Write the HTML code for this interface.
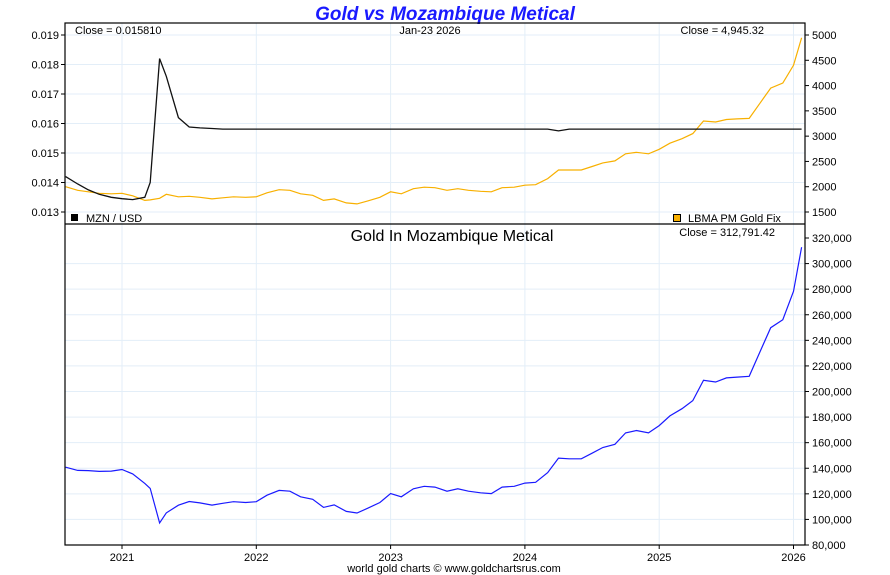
<!DOCTYPE html>
<html><head><meta charset="utf-8"><style>
body{margin:0;background:#fff;}
svg{display:block;font-family:"Liberation Sans",sans-serif;}
</style></head><body>
<svg id="chart" width="890" height="575" viewBox="0 0 890 575">
<rect width="890" height="575" fill="#fff"/>
<text x="445" y="20" text-anchor="middle" font-size="19" font-weight="bold" font-style="italic" fill="#1a1aff">Gold vs Mozambique Metical</text>
<g id="grid"></g>
<g id="series"></g>
<g id="axes"></g>
<rect x="65" y="23" width="740" height="522" fill="none" stroke="#000" stroke-width="1.2"/>
<line x1="65" y1="224" x2="805" y2="224" stroke="#000" stroke-width="1.2"/>
<text x="75" y="34" font-size="11">Close = 0.015810</text>
<text x="430" y="34" text-anchor="middle" font-size="11">Jan-23  2026</text>
<text x="764" y="34" text-anchor="end" font-size="11">Close = 4,945.32</text>
<rect x="71" y="214" width="7" height="7" fill="#000"/>
<text x="86" y="222" font-size="11">MZN / USD</text>
<rect x="673.5" y="214.5" width="7" height="7" fill="#f8b000" stroke="#000" stroke-width="1"/>
<text x="688" y="222" font-size="11">LBMA PM Gold Fix</text>
<text x="452" y="241" text-anchor="middle" font-size="16">Gold In Mozambique Metical</text>
<text x="775" y="236" text-anchor="end" font-size="11">Close = 312,791.42</text>
<text x="454" y="572" text-anchor="middle" font-size="11">world gold charts © www.goldchartsrus.com</text>
</svg>
<script>
const dates = [2020.58,2020.67,2020.75,2020.83,2020.92,2021.0,2021.08,2021.17,2021.21,2021.28,2021.33,2021.42,2021.5,2021.58,2021.67,2021.75,2021.83,2021.92,2022.0,2022.08,2022.17,2022.25,2022.33,2022.42,2022.5,2022.58,2022.67,2022.75,2022.83,2022.92,2023.0,2023.08,2023.17,2023.25,2023.33,2023.42,2023.5,2023.58,2023.67,2023.75,2023.83,2023.92,2024.0,2024.08,2024.17,2024.25,2024.33,2024.42,2024.5,2024.58,2024.67,2024.75,2024.83,2024.92,2025.0,2025.08,2025.17,2025.25,2025.33,2025.42,2025.5,2025.58,2025.67,2025.75,2025.83,2025.92,2026.0,2026.06];
const goldUsd = [2000,1930,1900,1870,1860,1870,1820,1730,1740,1770,1850,1800,1810,1790,1760,1780,1800,1790,1800,1880,1940,1930,1860,1830,1730,1760,1680,1660,1720,1790,1900,1860,1960,1990,1980,1930,1960,1930,1910,1900,1980,1990,2030,2040,2160,2330,2330,2330,2400,2470,2510,2650,2680,2650,2740,2860,2950,3050,3300,3280,3330,3340,3350,3650,3950,4050,4400,4945];
const mznUsd = [0.0142,0.01395,0.01375,0.0136,0.0135,0.01345,0.01342,0.0135,0.0140,0.0182,0.0176,0.0162,0.01588,0.01585,0.01583,0.01581,0.01581,0.01581,0.01581,0.01581,0.01581,0.01581,0.01581,0.01581,0.01581,0.01581,0.01581,0.01581,0.01581,0.01581,0.01581,0.01581,0.01581,0.01581,0.01581,0.01581,0.01581,0.01581,0.01581,0.01581,0.01581,0.01581,0.01581,0.01581,0.01581,0.01575,0.01581,0.01581,0.01581,0.01581,0.01581,0.01581,0.01581,0.01581,0.01581,0.01581,0.01581,0.01581,0.01581,0.01581,0.01581,0.01581,0.01581,0.01581,0.01581,0.01581,0.01581,0.01581];
const leftTicks = [0.013,0.014,0.015,0.016,0.017,0.018,0.019];
const rightTicks = [1500,2000,2500,3000,3500,4000,4500,5000];
const lowerTicks = [80000,100000,120000,140000,160000,180000,200000,220000,240000,260000,280000,300000,320000];
const yearTicks = [2021,2022,2023,2024,2025,2026];

const NS='http://www.w3.org/2000/svg';
const X = d => 122 + (d-2021)*134.3;
const YL = v => 35 + (0.019-v)/0.001*29.5;
const YR = v => 35 + (5000-v)/3500*177;
const YB = v => 238 + (320000-v)/240000*307;
function mk(tag, attrs, parent){const e=document.createElementNS(NS,tag);for(const k in attrs)e.setAttribute(k,attrs[k]);document.getElementById(parent).appendChild(e);return e;}

yearTicks.forEach(y=>{
  const l=mk('line',{x1:X(y),x2:X(y),y1:23,y2:545,stroke:'#e3eef8'},'grid');
  
  
  const t=mk('line',{x1:X(y),x2:X(y),y1:545,y2:549,stroke:'#000'},'axes');
  
  
  const tx=mk('text',{x:X(y),y:561,'text-anchor':'middle','font-size':11},'axes');
  tx.textContent=y;
  
  
});
leftTicks.forEach(v=>{
  const l=mk('line',{x1:65,x2:805,y1:YL(v),y2:YL(v),stroke:'#e3eef8'},'grid');
  
  
  const t=mk('line',{x1:61,x2:65,y1:YL(v),y2:YL(v),stroke:'#000'},'axes');
  
  
  const tx=mk('text',{x:59,y:YL(v)+4,'text-anchor':'end','font-size':11},'axes');
  tx.textContent=v.toFixed(3);
  
  
});
rightTicks.forEach(v=>{
  const t=mk('line',{x1:805,x2:809,y1:YR(v),y2:YR(v),stroke:'#000'},'axes');
  
  
  const tx=mk('text',{x:812,y:YR(v)+4,'font-size':11},'axes');
  tx.textContent=v;
  
  
});
lowerTicks.forEach(v=>{
  if(v<320000){
    const l=mk('line',{x1:65,x2:805,y1:YB(v),y2:YB(v),stroke:'#e3eef8'},'grid');
    
    
  }
  const t=mk('line',{x1:805,x2:809,y1:YB(v),y2:YB(v),stroke:'#000'},'axes');
  
  
  const tx=mk('text',{x:812,y:YB(v)+4,'font-size':11},'axes');
  tx.textContent=v.toLocaleString('en-US');
  
  
});
const pts=(arr,yf)=>arr.map((v,i)=>X(dates[i]).toFixed(1)+','+yf(v).toFixed(1)).join(' ');
const g=mk('polyline',{points:pts(goldUsd,YR),fill:'none',stroke:'#f8b000','stroke-width':1.2},'series');


const m=mk('polyline',{points:pts(mznUsd,YL),fill:'none',stroke:'#111','stroke-width':1.3},'series');


const goldMzn=goldUsd.map((v,i)=>v/mznUsd[i]);
const b=mk('polyline',{points:pts(goldMzn,YB),fill:'none',stroke:'#1a1aff','stroke-width':1.2},'series');


</script>
</body></html>
